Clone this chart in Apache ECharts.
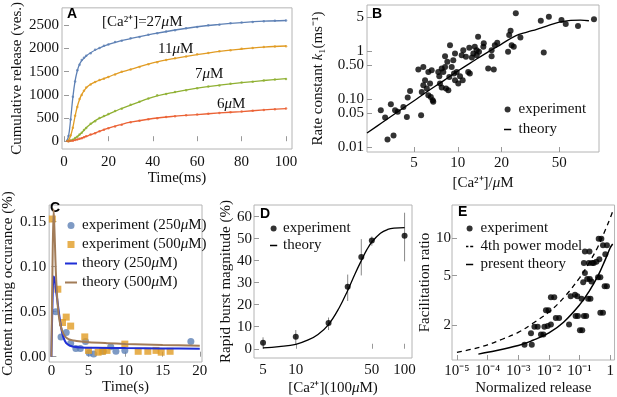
<!DOCTYPE html>
<html>
<head>
<meta charset="utf-8">
<script src="https://cdn.jsdelivr.net/npm/echarts@6/dist/echarts.min.js"></script>
<style>
html, body { margin: 0; padding: 0; background: #fff; }
#main { width: 617px; height: 397px; }
</style>
</head>
<body>
<div id="main"></div>
<script>
var SERIF = '"Liberation Serif", "Times New Roman", serif';
var SANS = '"Liberation Sans", Arial, sans-serif';

/* A: cumulative release */
var aTimeFit = [1, 2, 3, 4, 5, 6, 7, 8, 10, 12, 15, 20, 25, 30, 40, 50, 60, 70, 80, 90, 100];
var aFit27 = [0, 100, 480, 950, 1300, 1520, 1660, 1740, 1840, 1910, 1990, 2090, 2160, 2215, 2315, 2400, 2470, 2520, 2560, 2590, 2605];
var aFit11 = [0, 20, 120, 300, 540, 750, 900, 1010, 1150, 1230, 1300, 1390, 1480, 1550, 1690, 1790, 1870, 1940, 1990, 2030, 2055];
var aFit7 = [0, 3, 12, 35, 65, 100, 140, 185, 290, 370, 470, 580, 690, 780, 950, 1060, 1145, 1210, 1265, 1310, 1350];
var aFit6 = [0, 2, 6, 14, 24, 38, 52, 68, 105, 140, 195, 280, 350, 410, 490, 540, 575, 610, 640, 675, 705];
var aTimeExp = [2, 3, 4, 5, 6, 7, 8, 9, 10, 12, 14, 16, 18, 20, 23, 26, 30, 34, 38, 42, 46, 50, 55, 60, 65, 70, 75, 80, 85, 90, 95, 100];
var aExp27 = [110, 470, 960, 1290, 1530, 1650, 1750, 1800, 1845, 1900, 1975, 2010, 2060, 2085, 2140, 2170, 2220, 2250, 2300, 2330, 2370, 2395, 2440, 2465, 2500, 2515, 2545, 2560, 2575, 2590, 2600, 2605];
var aExp11 = [25, 130, 290, 550, 740, 910, 1000, 1090, 1160, 1225, 1280, 1320, 1350, 1385, 1440, 1500, 1545, 1600, 1660, 1705, 1750, 1790, 1830, 1875, 1905, 1940, 1965, 1995, 2010, 2035, 2045, 2050];
var aExp7 = [0, 15, 30, 70, 95, 145, 180, 240, 285, 375, 430, 500, 545, 585, 650, 700, 785, 850, 920, 990, 1020, 1060, 1100, 1145, 1180, 1205, 1240, 1265, 1285, 1310, 1330, 1345];
var aExp6 = [0, 8, 12, 25, 35, 55, 65, 85, 105, 145, 170, 215, 245, 280, 320, 355, 410, 440, 475, 495, 525, 540, 560, 575, 595, 610, 625, 640, 655, 675, 690, 705];
var aXTicks = [0, 20, 40, 60, 80, 100];
var aYTicks = [0, 500, 1000, 1500, 2000, 2500];

/* B: rate constant vs Ca */
var bCa = [2.95, 3.16, 3.28, 3.46, 3.61, 3.70, 3.86, 4.22, 4.46, 4.52, 4.69, 5.35, 5.59, 5.79, 5.65, 5.79, 5.95, 6.12, 6.27, 6.27,
  6.44, 6.52, 6.61, 6.72, 6.78, 7.34, 7.46, 7.54, 7.75, 7.75, 7.95, 8.17, 8.17, 8.30, 8.47, 8.61, 8.74, 8.84, 9.08, 9.31,
  9.42, 9.57, 9.57, 9.83, 10.08, 10.36, 10.64, 10.81, 10.91, 11.38, 11.8, 12.0, 12.8, 13.1, 13.8, 13.5, 15.1, 16.2, 18.0, 17.1,
  17.7, 18.7, 17.1, 22.2, 22.6, 23.1, 23.5, 24.3, 25.1, 27.0, 37.3, 39.1, 42.4, 51.8, 55.4, 67.3, 86.7, 12.1, 12.5, 13.5, 14.0, 15.0];
var bK = [0.058, 0.041, 0.0143, 0.078, 0.0175, 0.058, 0.054, 0.068, 0.042, 0.107, 0.147, 0.41, 0.046, 0.464, 0.14, 0.193, 0.245, 0.165, 0.365, 0.119,
  0.209, 0.110, 0.396, 0.094, 0.087, 0.365, 0.297, 0.209, 0.173, 0.43, 0.365, 0.776, 0.464, 0.165, 0.59, 0.152, 0.287, 1.31, 0.464, 0.64,
  0.338, 0.245, 0.883, 0.365, 0.209, 0.297, 0.814, 0.245, 1.03, 0.75, 0.365, 1.155, 0.883, 1.21, 1.96, 0.814, 1.43, 0.43, 1.31, 1.03,
  0.41, 1.47, 0.776, 0.953, 2.12, 2.61, 1.31, 1.21, 6.01, 1.90, 4.22, 0.926, 5.11, 4.36, 3.6, 3.27, 4.51, 0.338, 0.729, 1.03, 0.953, 1.21];
var bFitCa = [2.37, 3, 4, 5, 6, 8, 10, 13, 16, 20, 25, 30, 35, 40, 50, 60, 70, 80];
var bFitK = [0.0196, 0.032, 0.058, 0.092, 0.135, 0.24, 0.38, 0.63, 0.93, 1.38, 2.05, 2.45, 2.8, 3.2, 3.95, 4.3, 4.36, 4.22];
var bXTicks = [5, 10, 20, 50];
var bYTicks = [0.01, 0.05, 0.1, 0.5, 1, 5];
var bYLabels = ['0.01', '0.05', '0.10', '0.50', '1', '5'];

/* C: content mixing */
var cT250 = [0.6, 1.3, 2.0, 2.6, 3.3, 3.9, 4.6, 5.1, 5.7, 7.0, 8.0, 8.7, 9.9, 18.8];
var cY250 = [0.050, 0.022, 0.027, 0.015, 0.009, 0.009, 0.017, 0.004, 0.003, 0.006, 0.011, 0.006, 0.007, 0.017];
var cT500 = [0.13, 0.87, 1.5, 2.0, 2.6, 4.5, 5.0, 6.3, 6.9, 7.5, 9.9, 11.7, 13.0, 14.1, 14.8, 16.0];
var cY500 = [0.153, 0.075, 0.038, 0.044, 0.034, 0.022, 0.007, 0.005, 0.006, 0.007, 0.014, 0.006, 0.006, 0.007, 0.005, 0.006];
var cFitT250 = [0, 0.15, 0.3, 0.45, 0.6, 0.8, 1.0, 1.3, 1.6, 2, 2.5, 3, 4, 6, 10, 15, 20];
var cFit250 = [0, 0.06, 0.089, 0.085, 0.075, 0.063, 0.05, 0.033, 0.022, 0.015, 0.0122, 0.011, 0.0103, 0.0100, 0.0096, 0.0092, 0.0089];
var cFitT500 = [0, 0.15, 0.3, 0.4, 0.5, 0.6, 0.75, 0.9, 1.1, 1.4, 1.8, 2.3, 3, 4, 5, 7.5, 10, 15, 20];
var cFit500 = [0, 0.10, 0.164, 0.145, 0.12, 0.095, 0.07, 0.053, 0.04, 0.03, 0.023, 0.0195, 0.018, 0.0168, 0.016, 0.015, 0.0142, 0.013, 0.0122];
var cXTicks = [0, 5, 10, 15, 20];
var cYTicks = [0, 0.05, 0.1, 0.15];
var cYLabels = ['0.00', '0.05', '0.10', '0.15'];

/* D: rapid burst magnitude */
var dCa = [5, 10, 20, 30, 40, 50, 100];
var dBurst = [2.7, 5.5, 11.7, 28.2, 41.7, 49.2, 51.3];
var dLow = [0, 2, 8.5, 21.7, 33.3, 46.8, 39.7];
var dHigh = [5.2, 8.5, 14.2, 33.7, 49.8, 51, 61.8];
var dFitCa = [5, 7, 10, 13, 16, 20, 25, 30, 35, 40, 45, 50, 60, 70, 80, 100];
var dFit = [0.4, 1, 2, 4, 6.5, 11, 18.5, 26.5, 34, 40, 45, 48.5, 52.5, 54.2, 54.8, 55];
var dXTicks = [5, 10, 50, 100];
var dYTicks = [0, 10, 20, 30, 40, 50, 60];

/* E: facilitation ratio */
var eRel = [1.6e-3, 2.76e-3, 2.6e-3, 3.37e-3, 4.3e-3, 5.5e-3, 6.6e-3, 7.1e-3, 9.1e-3, 0.0116, 8.0e-3, 9.7e-3, 0.0116, 0.0149, 0.0168, 0.0215,
  0.0453, 0.0513, 0.0708, 0.0841, 0.1026, 0.122, 0.0743, 0.0883, 0.116, 0.131, 0.149, 0.138, 0.149, 0.21, 0.138, 0.164, 0.177, 0.215,
  0.19, 0.226, 0.2, 0.256, 0.244, 0.29, 0.353, 0.42, 0.513, 0.4, 0.475, 0.44, 0.475, 0.58, 0.58, 0.78, 0.656, 0.78, 0.69];
var eFac = [1.38, 1.38, 1.71, 1.93, 1.93, 1.67, 1.67, 1.93, 1.96, 2.01, 2.62, 2.62, 3.35, 3.35, 2.27, 2.27,
  2.01, 3.41, 3.50, 3.41, 1.81, 1.81, 2.36, 2.36, 3.25, 4.41, 5.25, 6.31, 7.82, 7.82, 2.36, 2.36, 4.7, 4.7,
  3.25, 3.25, 6.31, 6.31, 4.48, 6.31, 6.47, 9.94, 9.94, 4.84, 4.84, 6.79, 2.51, 2.51, 8.79, 8.79, 4.1, 4.1, 7.45];
var ePowRel = [1e-5, 3e-5, 1e-4, 3e-4, 1e-3, 3e-3, 1e-2, 3e-2, 0.1, 0.2, 0.4, 0.7, 1, 1.2];
var ePowFac = [1.20, 1.27, 1.38, 1.53, 1.74, 2.06, 2.54, 3.3, 4.8, 6.3, 8.6, 11.8, 14.6, 16.5];
var eThRel = [5e-5, 1e-4, 1e-3, 3e-3, 1e-2, 3e-2, 0.1, 0.2, 0.4, 0.7, 1, 1.2];
var eThFac = [1.16, 1.2, 1.36, 1.5, 1.72, 2.1, 2.9, 3.7, 5.0, 6.8, 8.4, 9.0];
var eXTicks = [1e-5, 1e-4, 1e-3, 1e-2, 1e-1, 1];
var eXLabels = ['10⁻⁵', '10⁻⁴', '10⁻³', '10⁻²', '10⁻¹', '1'];
var eYTicks = [2, 5, 10];

// legend icons: tiny corner specks keep the bounding box so the bar stays thin
var LINE_ICON = 'path://M0,0L0.01,0L0,0.01Z M0,3.9H12V6.1H0Z M0,10L0.01,10L0,9.99Z';
var DASH_ICON = 'path://M0,0L0.01,0L0,0.01Z M0,3.9H4V6.1H0Z M7,3.9H12V6.1H7Z M0,10L0.01,10L0,9.99Z';
var C_LINE_ICON = 'path://M0,0L0.01,0L0,0.01Z M0,2.5H12V4.5H0Z M0,7L0.01,7L0,6.99Z';
var SQUARE_ICON = 'path://M2.5,0H9.5V7H2.5Z M0,3.5L0.01,3.5L0,3.51Z M12,3.5L11.99,3.5L12,3.51Z';

function zip(xs, ys) {
  return xs.map(function (x, i) { return [x, ys[i]]; });
}

function labelFor(v, ticks, labels) {
  var best = 0;
  for (var i = 1; i < ticks.length; i++) {
    if (Math.abs(ticks[i] - v) < Math.abs(ticks[best] - v)) best = i;
  }
  return labels ? labels[best] : String(ticks[best]);
}

var rich = { i: { fontStyle: 'italic', fontSize: 15, fontFamily: SERIF, color: '#111' } };

function axis(grid, type, min, max, ticks, labels, name, gap, margin) {
  var ax = {
    gridIndex: grid, type: type, min: min, max: max,
    axisLine: { show: false },
    splitLine: { show: false },
    axisTick: { show: true, inside: true, length: 5, customValues: ticks, lineStyle: { color: '#999' } },
    axisLabel: {
      customValues: ticks, margin: margin, fontSize: 15, color: '#111', fontFamily: SERIF,
      formatter: function (v) { return labelFor(v, ticks, labels); }
    },
    name: name, nameLocation: 'middle', nameGap: gap,
    nameTextStyle: { fontSize: 15, color: '#111', fontFamily: SERIF, rich: rich }
  };
  if (type === 'log') ax.logBase = 10;
  return ax;
}

var gridStyle = { show: true, borderColor: '#b4b4b4', borderWidth: 1, containLabel: false };
var legendText = { fontSize: 15, fontFamily: SERIF, color: '#111', rich: rich };

var myChart = echarts.init(document.getElementById('main'));

var option = {
  animation: false,
  backgroundColor: '#fff',
  textStyle: { fontFamily: SERIF },
  grid: [
    Object.assign({ left: 62, top: 4, width: 230, height: 145 }, gridStyle),
    Object.assign({ left: 367, top: 5, width: 232, height: 147 }, gridStyle),
    Object.assign({ left: 44, top: 205, width: 158, height: 157 }, gridStyle),
    Object.assign({ left: 254, top: 205, width: 158, height: 154 }, gridStyle),
    Object.assign({ left: 452, top: 205, width: 164, height: 158 }, gridStyle)
  ],
  xAxis: [
    axis(0, 'value', -0.9, 102.7, aXTicks, null, 'Time(ms)', 21, 6),
    axis(1, 'log', 2.37, 93.9, bXTicks, null, '[Ca²⁺]/{i|μ}M', 24, 4),
    axis(2, 'value', -0.3, 20.3, cXTicks, null, 'Time(s)', 17, 2),
    axis(3, 'log', 4.13, 117, dXTicks, null, '[Ca²⁺](100{i|μ}M)', 23, 5),
    axis(4, 'log', 6.9e-6, 1.38, eXTicks, eXLabels, 'Normalized release', 21, 4)
  ],
  yAxis: [
    axis(0, 'value', -168, 2878, aYTicks, null, 'Cumulative release (ves.)', 37, 3),
    axis(1, 'log', 0.0079, 8.96, bYTicks, bYLabels, 'Rate constant {i|k}₁(ms⁻¹)', 41, 3),
    axis(2, 'value', -0.0059, 0.1686, cYTicks, cYLabels, 'Content mixing occurance (%)', 30, 3),
    axis(3, 'value', -4.2, 65.3, dYTicks, null, 'Rapid burst magnitude (%)', 16, 2),
    axis(4, 'log', 1.04, 18.6, eYTicks, null, 'Facilitation ratio', 9, 1)
  ],
  legend: [
    {
      data: ['experiment', { name: 'theory', icon: LINE_ICON }], left: 499, top: 97, orient: 'vertical',
      itemWidth: 12, itemHeight: 6, itemGap: 5, textStyle: legendText
    },
    {
      data: ['experiment (250μM)', { name: 'experiment (500μM)', icon: SQUARE_ICON },
        { name: 'theory (250μM)', icon: C_LINE_ICON }, { name: 'theory (500μM)', icon: C_LINE_ICON }],
      left: 60, top: 213, orient: 'vertical', itemWidth: 12, itemHeight: 7, itemGap: 4,
      formatter: function (n) { return n.replace('μ', '{i|μ}'); },
      textStyle: legendText
    },
    {
      data: ['experiment', { name: 'theory', icon: LINE_ICON }], left: 265, top: 216, orient: 'vertical',
      itemWidth: 9, itemHeight: 6, itemGap: 2, textStyle: legendText
    },
    {
      data: ['experiment', { name: '4th power model', icon: DASH_ICON }, { name: 'present theory', icon: LINE_ICON }],
      left: 461, top: 216, orient: 'vertical', itemWidth: 12, itemHeight: 6, itemGap: 3, textStyle: legendText
    }
  ],
  graphic: [
    { type: 'text', left: 67, top: 7, style: { text: 'A', font: 'bold 14px ' + SANS, fill: '#000' } },
    { type: 'text', left: 372, top: 7, style: { text: 'B', font: 'bold 14px ' + SANS, fill: '#000' } },
    { type: 'text', left: 50, top: 201, style: { text: 'C', font: 'bold 14px ' + SANS, fill: '#000' } },
    { type: 'text', left: 260, top: 207, style: { text: 'D', font: 'bold 14px ' + SANS, fill: '#000' } },
    { type: 'text', left: 458, top: 205, style: { text: 'E', font: 'bold 14px ' + SANS, fill: '#000' } },
    { type: 'text', x: 102, y: 22, style: { text: '[Ca²⁺]=27{i|μ}M', verticalAlign: 'middle', font: '15px ' + SERIF, fill: '#111', rich: rich } },
    { type: 'text', x: 158, y: 49, style: { text: '11{i|μ}M', verticalAlign: 'middle', font: '15px ' + SERIF, fill: '#111', rich: rich } },
    { type: 'text', x: 195, y: 74, style: { text: '7{i|μ}M', verticalAlign: 'middle', font: '15px ' + SERIF, fill: '#111', rich: rich } },
    { type: 'text', x: 217, y: 104, style: { text: '6{i|μ}M', verticalAlign: 'middle', font: '15px ' + SERIF, fill: '#111', rich: rich } }
  ],
  series: [
    // A
    { type: 'line', xAxisIndex: 0, yAxisIndex: 0, data: zip(aTimeFit, aFit27), smooth: 0.4, symbol: 'none', lineStyle: { color: '#5e81b5', width: 1.3 } },
    { type: 'line', xAxisIndex: 0, yAxisIndex: 0, data: zip(aTimeFit, aFit11), smooth: 0.4, symbol: 'none', lineStyle: { color: '#e19c24', width: 1.3 } },
    { type: 'line', xAxisIndex: 0, yAxisIndex: 0, data: zip(aTimeFit, aFit7), smooth: 0.4, symbol: 'none', lineStyle: { color: '#8fb032', width: 1.3 } },
    { type: 'line', xAxisIndex: 0, yAxisIndex: 0, data: zip(aTimeFit, aFit6), smooth: 0.4, symbol: 'none', lineStyle: { color: '#eb6235', width: 1.3 } },
    { type: 'scatter', xAxisIndex: 0, yAxisIndex: 0, data: zip(aTimeExp, aExp27), symbolSize: 2.5, itemStyle: { color: '#5e81b5' } },
    { type: 'scatter', xAxisIndex: 0, yAxisIndex: 0, data: zip(aTimeExp, aExp11), symbolSize: 2.5, itemStyle: { color: '#e19c24' } },
    { type: 'scatter', xAxisIndex: 0, yAxisIndex: 0, data: zip(aTimeExp, aExp7), symbolSize: 2.5, itemStyle: { color: '#8fb032' } },
    { type: 'scatter', xAxisIndex: 0, yAxisIndex: 0, data: zip(aTimeExp, aExp6), symbolSize: 2.5, itemStyle: { color: '#eb6235' } },
    // B
    { name: 'experiment', type: 'scatter', xAxisIndex: 1, yAxisIndex: 1, data: zip(bCa, bK), symbolSize: 6, itemStyle: { color: '#000' } },
    { name: 'theory', type: 'line', xAxisIndex: 1, yAxisIndex: 1, data: zip(bFitCa, bFitK), smooth: 0.4, symbol: 'none', lineStyle: { color: '#000', width: 1.3 }, itemStyle: { color: '#000' } },
    // C
    { name: 'experiment (250μM)', type: 'scatter', xAxisIndex: 2, yAxisIndex: 2, data: zip(cT250, cY250), symbolSize: 7, itemStyle: { color: '#5e81b5' } },
    { name: 'experiment (500μM)', type: 'scatter', xAxisIndex: 2, yAxisIndex: 2, data: zip(cT500, cY500), symbol: 'rect', symbolSize: 7, itemStyle: { color: '#e19c24' } },
    { name: 'theory (250μM)', type: 'line', xAxisIndex: 2, yAxisIndex: 2, data: zip(cFitT250, cFit250), smooth: 0.3, symbol: 'none', lineStyle: { color: '#1f2fd6', width: 2 }, itemStyle: { color: '#1f2fd6' }, z: 3 },
    { name: 'theory (500μM)', type: 'line', xAxisIndex: 2, yAxisIndex: 2, data: zip(cFitT500, cFit500), smooth: 0.3, symbol: 'none', lineStyle: { color: '#a27c58', width: 2 }, itemStyle: { color: '#a27c58' }, z: 3 },
    // D
    {
      type: 'custom', xAxisIndex: 3, yAxisIndex: 3,
      data: dCa.map(function (x, i) { return [x, dLow[i], dHigh[i]]; }),
      renderItem: function (params, api) {
        var lo = api.coord([api.value(0), api.value(1)]);
        var hi = api.coord([api.value(0), api.value(2)]);
        return { type: 'line', shape: { x1: lo[0], y1: lo[1], x2: hi[0], y2: hi[1] }, style: { stroke: '#888', lineWidth: 1 } };
      }
    },
    { name: 'experiment', type: 'scatter', xAxisIndex: 3, yAxisIndex: 3, data: zip(dCa, dBurst), symbolSize: 6, itemStyle: { color: '#000' } },
    { name: 'theory', type: 'line', xAxisIndex: 3, yAxisIndex: 3, data: zip(dFitCa, dFit), smooth: 0.4, symbol: 'none', lineStyle: { color: '#000', width: 1.3 }, itemStyle: { color: '#000' } },
    // E
    { name: 'experiment', type: 'scatter', xAxisIndex: 4, yAxisIndex: 4, data: zip(eRel, eFac), symbolSize: 6, itemStyle: { color: '#000' } },
    { name: '4th power model', type: 'line', xAxisIndex: 4, yAxisIndex: 4, data: zip(ePowRel, ePowFac), smooth: 0.4, symbol: 'none', lineStyle: { color: '#000', width: 1.3, type: [5, 4] }, itemStyle: { color: '#000' } },
    { name: 'present theory', type: 'line', xAxisIndex: 4, yAxisIndex: 4, data: zip(eThRel, eThFac), smooth: 0.4, symbol: 'none', lineStyle: { color: '#000', width: 1.5 }, itemStyle: { color: '#000' } }
  ]
};
myChart.setOption(option);
</script>
</body>
</html>
